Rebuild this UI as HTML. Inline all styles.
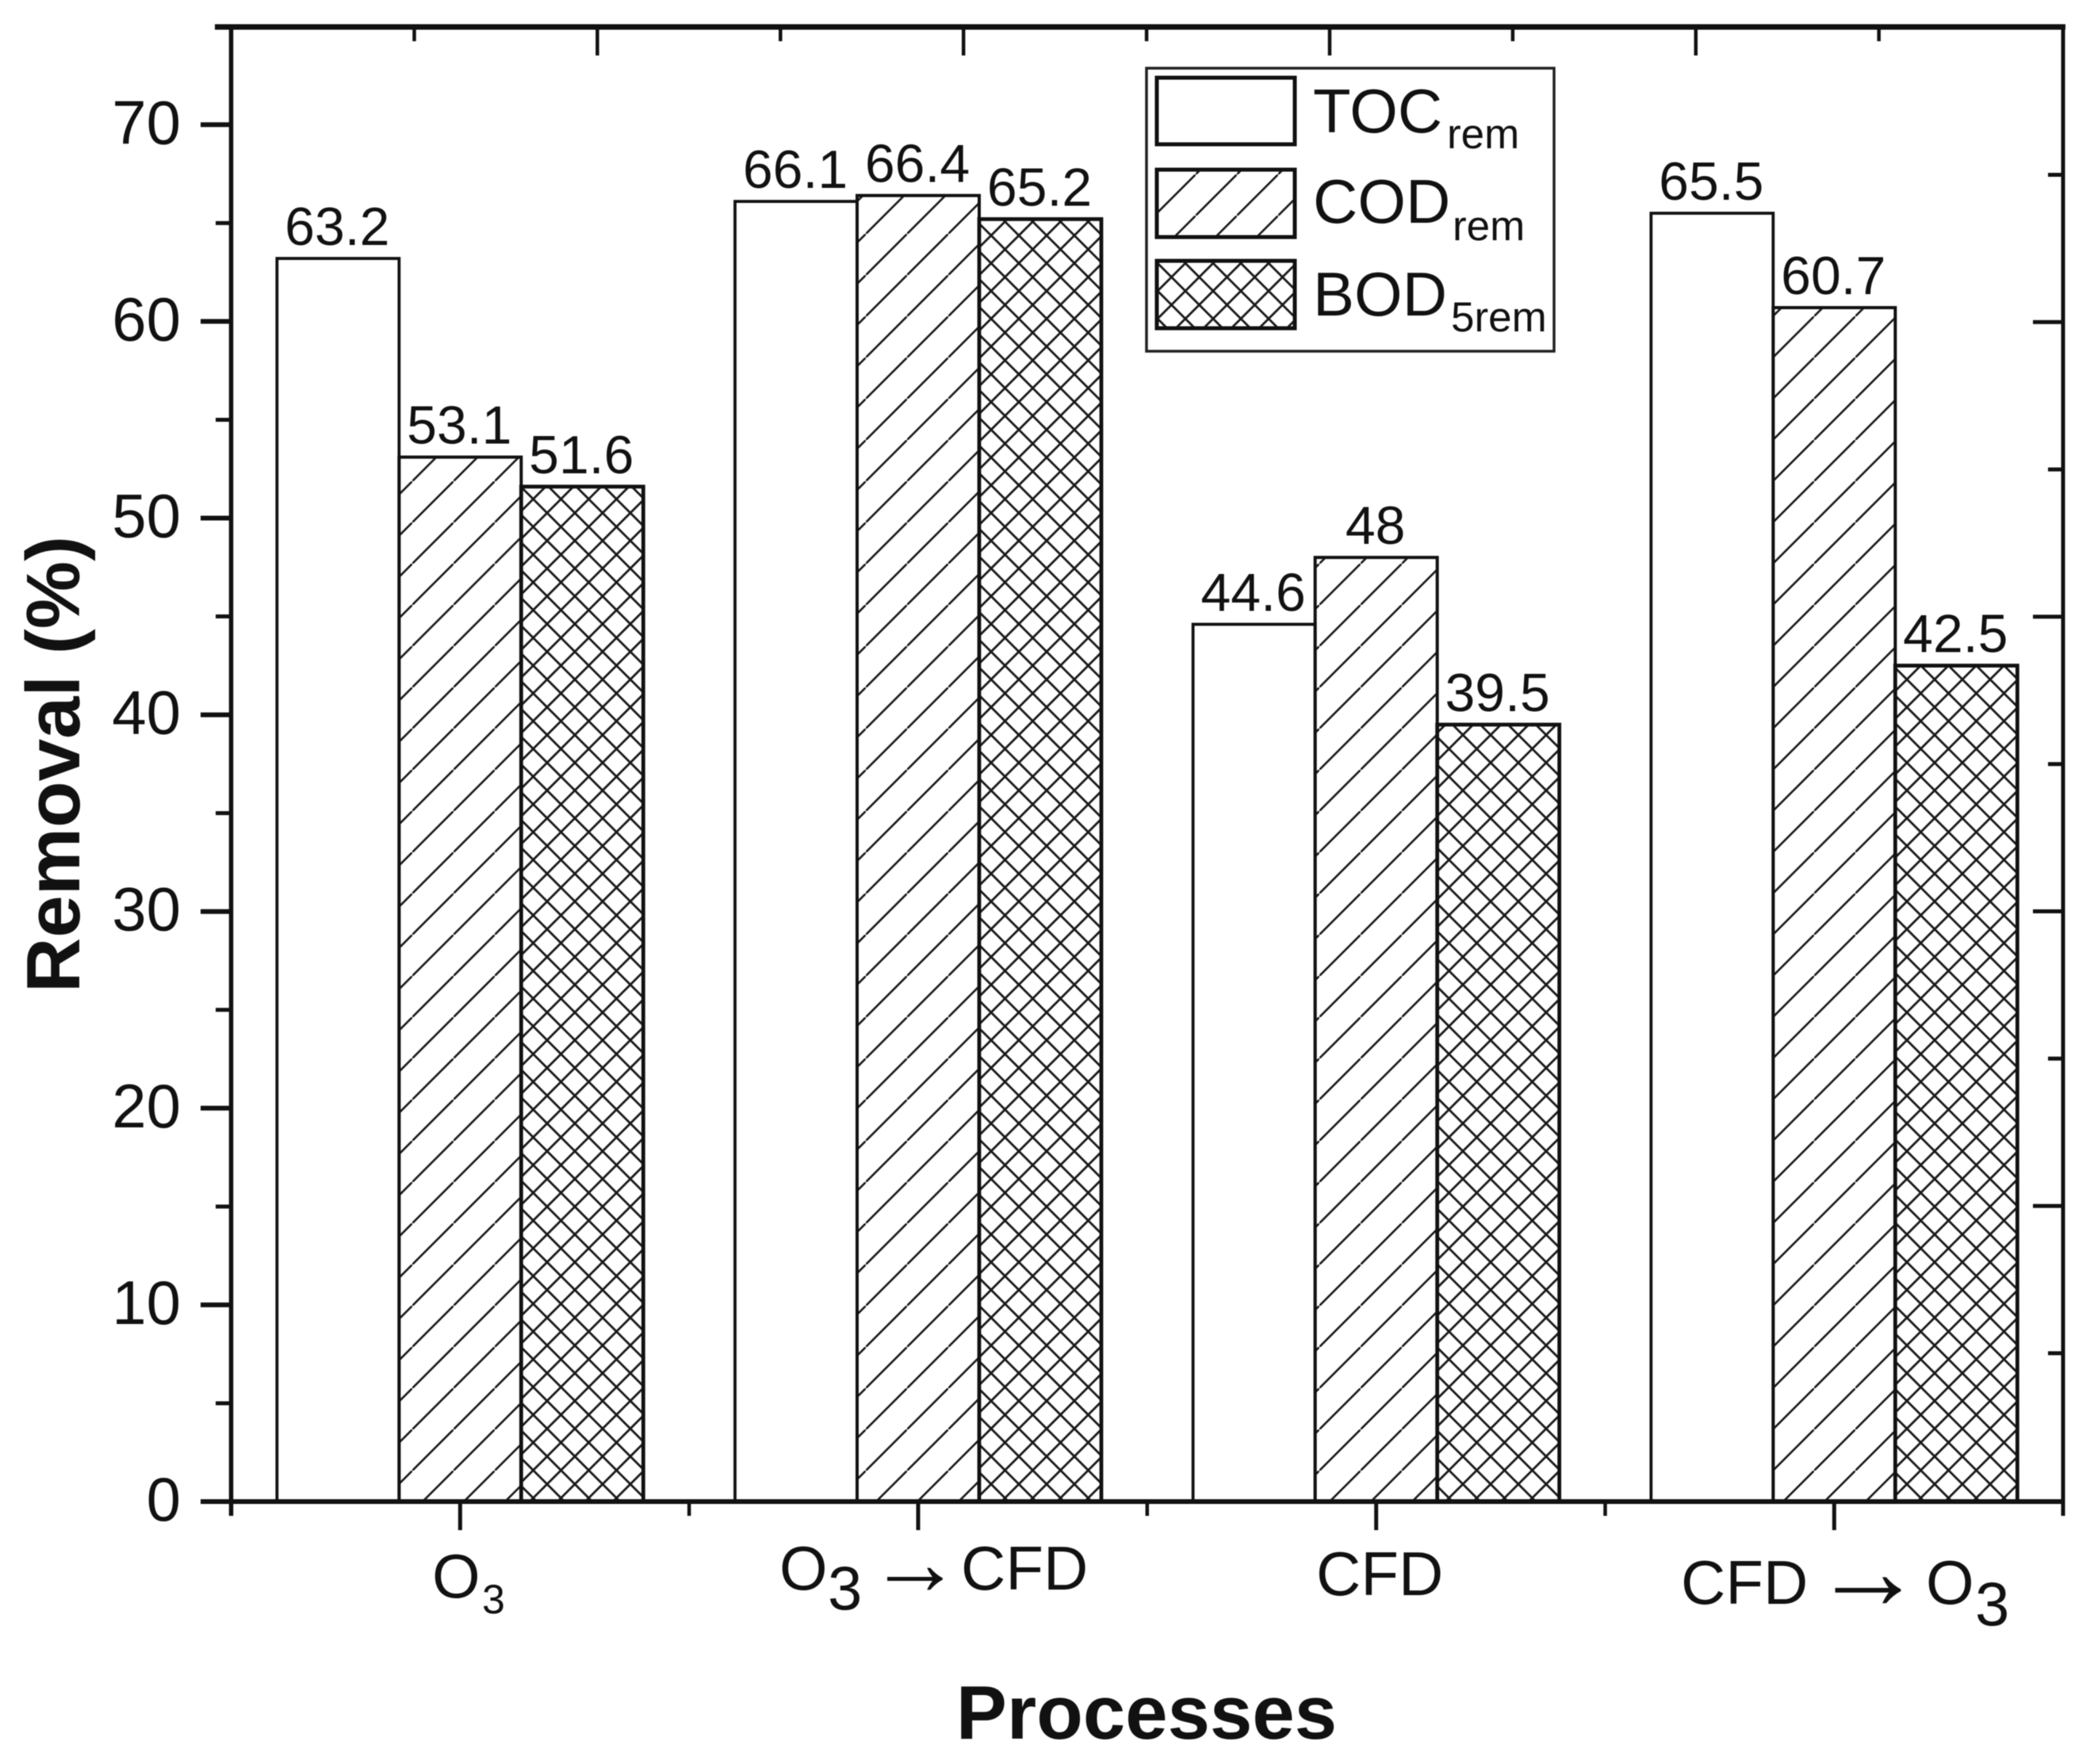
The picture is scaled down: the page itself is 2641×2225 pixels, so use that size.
<!DOCTYPE html>
<html lang="en">
<head>
<meta charset="utf-8">
<title>Removal by process</title>
<style>
html,body{margin:0;padding:0;background:#fff;width:2641px;height:2225px;overflow:hidden}
svg{display:block;filter:blur(0.6px)}
text{font-family:"Liberation Sans",sans-serif;fill:#111}
</style>
</head>
<body>
<svg id="chart" xmlns="http://www.w3.org/2000/svg" width="2641" height="2225" viewBox="0 0 2641 2225">
<defs>
<pattern id="hatch-cod" patternUnits="userSpaceOnUse" x="0" y="35" width="52" height="52">
<line x1="-4" y1="56" x2="56" y2="-4" stroke="#1a1a1a" stroke-width="2.6"/>
</pattern>
<pattern id="hatch-cod-legend" patternUnits="userSpaceOnUse" x="0" y="12" width="52" height="52">
<line x1="-4" y1="56" x2="56" y2="-4" stroke="#1a1a1a" stroke-width="2.6"/>
</pattern>
<pattern id="hatch-bod" patternUnits="userSpaceOnUse" x="1232.5" y="279.5" width="35" height="35">
<line x1="-3" y1="-3" x2="38" y2="38" stroke="#1a1a1a" stroke-width="2.8"/>
<line x1="38" y1="-3" x2="-3" y2="38" stroke="#1a1a1a" stroke-width="2.8"/>
</pattern>
</defs>
<rect x="0" y="0" width="2641" height="2225" fill="#fff"/>
<g id="bars"></g>
<g id="axes"></g>

<g>
<rect x="1446" y="86" width="514" height="357" fill="#fff" stroke="#222" stroke-width="3.5"/>
<rect x="1459" y="98" width="174" height="84" fill="#fff" stroke="#111" stroke-width="5"/>
<rect x="1459" y="214" width="174" height="85" fill="url(#hatch-cod-legend)" stroke="#111" stroke-width="5"/>
<rect x="1459" y="329" width="174" height="85" fill="url(#hatch-bod)" stroke="#111" stroke-width="5"/>
<text x="1656" y="167" font-size="78">TOC</text>
<text x="1825" y="187" font-size="53">rem</text>
<text x="1656" y="281" font-size="78">COD</text>
<text x="1832" y="303" font-size="53">rem</text>
<text x="1656" y="398" font-size="78">BOD</text>
<text x="1830" y="418" font-size="53">5rem</text>
</g>

<g>
<text x="545" y="2015" font-size="78">O</text>
<text x="608" y="2035" font-size="52">3</text>
<text x="983" y="2005" font-size="78">O</text>
<text x="1044" y="2030" font-size="78">3</text>
<text x="1095" y="2011" font-size="118">→</text>
<text x="1212" y="2005" font-size="78">CFD</text>
<text x="1660" y="2012" font-size="78">CFD</text>
<text x="2120" y="2023" font-size="78">CFD</text>
<text x="2286" y="2029" font-size="140">→</text>
<text x="2429" y="2023" font-size="78">O</text>
<text x="2491" y="2050" font-size="78">3</text>
</g>

<text x="1446" y="2193" font-size="96" font-weight="700" text-anchor="middle">Processes</text>
<text x="0" y="0" font-size="96" font-weight="700" text-anchor="middle" transform="translate(100 964) rotate(-90)">Removal (%)</text>
</svg>
<script>
var categories = ["O3", "O3 to CFD", "CFD", "CFD to O3"];
var seriesNames = ["TOCrem", "CODrem", "BOD5rem"];
var tocValues = [63.2, 66.1, 44.6, 65.5];
var codValues = [53.1, 66.4, 48, 60.7];
var bodValues = [51.6, 65.2, 39.5, 42.5];
var tocLabels = ["63.2", "66.1", "44.6", "65.5"];
var codLabels = ["53.1", "66.4", "48", "60.7"];
var bodLabels = ["51.6", "65.2", "39.5", "42.5"];
var yTickLabels = [0, 10, 20, 30, 40, 50, 60, 70];

var NS = "http://www.w3.org/2000/svg";
var plotLeft = 291.5, plotRight = 2602, plotTop = 34, plotBottom = 1894;
var unitsPerPx = 24.81;
var catPitch = 577.67, barWidth = 154;

function xCenter(i) { return plotLeft + (i + 0.5) * catPitch; }
function xBar(i, s) { return xCenter(i) + (s - 1.5) * barWidth; }
function yScale(v) { return plotBottom - v * unitsPerPx; }

function make(tag, attrs) {
  var el = document.createElementNS(NS, tag);
  for (var k in attrs) el.setAttribute(k, attrs[k]);
  return el;
}

var barsGroup = document.getElementById("bars");
var axesGroup = document.getElementById("axes");
var seriesValues = [tocValues, codValues, bodValues];
var seriesLabels = [tocLabels, codLabels, bodLabels];
var seriesFills = ["#fff", "url(#hatch-cod)", "url(#hatch-bod)"];
var seriesStrokes = [3.8, 4, 4.8];

seriesValues.forEach(function (values, s) {
  values.forEach(function (v, i) {
    var top = yScale(v);
    var rect = make("rect", {
      x: xBar(i, s), y: top, width: barWidth, height: plotBottom - top,
      fill: seriesFills[s], stroke: "#111", "stroke-width": seriesStrokes[s]
    });
    
    
    barsGroup.appendChild(rect);
    var label = make("text", {
      x: xBar(i, s) + barWidth / 2 - 1, y: top - 17,
      "font-size": 68, "text-anchor": "middle"
    });
    
    
    label.textContent = seriesLabels[s][i];
    barsGroup.appendChild(label);
  });
});

function axisLine(x1, y1, x2, y2, w) {
  var line = make("line", { x1: x1, y1: y1, x2: x2, y2: y2, stroke: "#111", "stroke-width": w });
  
  
  axesGroup.appendChild(line);
}
function tickLine(x1, y1, x2, y2, w) {
  var line = make("line", { x1: x1, y1: y1, x2: x2, y2: y2, stroke: "#111", "stroke-width": w });
  
  
  axesGroup.appendChild(line);
}

/* frame */
axisLine(271, plotTop, plotRight + 3, plotTop, 7);
axisLine(253, plotBottom, plotRight, plotBottom, 6);
axisLine(plotLeft, plotTop - 3, plotLeft, 1912, 5.5);
axisLine(plotRight, plotTop - 3, plotRight, 1912, 5);

/* left axis ticks */
yTickLabels.forEach(function (v) {
  var y = yScale(v);
  tickLine(253, y, plotLeft, y, 6);
  var t = make("text", { x: 228, y: y + 24, "font-size": 78, "text-anchor": "end" });
  
  
  t.textContent = v;
  axesGroup.appendChild(t);
  tickLine(272, yScale(v + 5), plotLeft, yScale(v + 5), 5);
});

/* bottom axis ticks */
categories.forEach(function (c, i) {
  tickLine(xCenter(i), plotBottom, xCenter(i), 1930, 5);
  if (i < categories.length - 1) {
    tickLine(plotLeft + (i + 1) * catPitch, plotBottom, plotLeft + (i + 1) * catPitch, 1912, 4.5);
  }
});

/* top axis ticks: independent secondary scale */
for (var k = 0; k < 9; k++) {
  var tx = 522.5 + k * 230.9;
  tickLine(tx, plotTop, tx, k % 2 ? 70 : 52, 4.5);
}

/* right axis ticks: independent secondary scale */
for (var m = 0; m < 9; m++) {
  var ty = 220.5 + m * 185.8;
  tickLine(m % 2 ? 2564 : 2583, ty, plotRight, ty, 5);
}
</script>
</body>
</html>
